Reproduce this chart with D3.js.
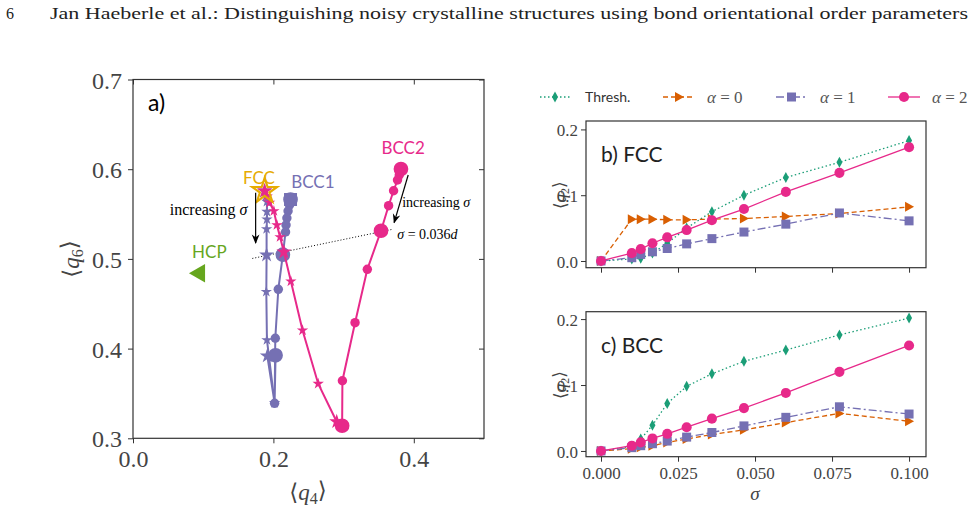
<!DOCTYPE html>
<html>
<head>
<meta charset="utf-8">
<script src="https://cdn.jsdelivr.net/npm/d3@7"></script>
<style>
  body { margin: 0; background: #fff; }
  svg { display: block; }
</style>
</head>
<body>
<svg id="fig" width="976" height="510"></svg>
<script>
// ---- panel a: <q4>, <q6> paths with increasing sigma ----
const fccAlpha1 = [[0.1875,0.5757],[0.1896,0.5701],[0.1908,0.5638],[0.1908,0.5526],[0.1908,0.5441],[0.1903,0.5333],
  [0.1903,0.5043],[0.1899,0.4634],[0.1908,0.4096],[0.2017,0.3394],[0.1913,0.3918]]
const bcc1Alpha1 = [[0.2244,0.5662],[0.2230,0.5601],[0.2209,0.5534],[0.2192,0.5456],[0.2180,0.5378],[0.2173,0.5300],
  [0.2135,0.5047],[0.2070,0.4661],[0.2027,0.4115],[0.2017,0.3390],[0.2031,0.3925]]
const fccAlpha2 = [[0.1875,0.5757],[0.1911,0.5696],[0.1946,0.5627],[0.2007,0.5534],[0.2050,0.5378],[0.2095,0.5244],
  [0.2149,0.5077],[0.2249,0.4750],[0.2415,0.4204],[0.2638,0.3609],[0.2902,0.3185]]
const bcc2Alpha2 = [[0.3817,0.6002],[0.3807,0.5980],[0.3793,0.5935],[0.3768,0.5880],[0.3712,0.5760],[0.3641,0.5593],
  [0.3533,0.5314],[0.3338,0.4884],[0.3163,0.4289],[0.2983,0.3642],[0.2979,0.3140]]
const bigIdx = [0, 6, 10]
const hcpRef = [0.095, 0.484]
const fccRef = [0.1875, 0.5757]
const sigmaLine = [[0.170, 0.5005], [0.3697, 0.533]]

// ---- panels b, c: <q2> vs sigma ----
const sigmas = [0, 0.01, 0.0129, 0.0167, 0.0215, 0.0278, 0.036, 0.0464, 0.06, 0.0774, 0.1]
const fccThresh = [0, 0.003, 0.004, 0.012, 0.027, 0.05, 0.075, 0.100, 0.127, 0.150, 0.183]
const fccA0 = [0, 0.0636, 0.0636, 0.0636, 0.0626, 0.0626, 0.0636, 0.0646, 0.0677, 0.0722, 0.0823]
const fccA1 = [0, 0.005, 0.010, 0.014, 0.019, 0.026, 0.034, 0.044, 0.056, 0.073, 0.061]
const fccA2 = [0, 0.012, 0.018, 0.027, 0.036, 0.047, 0.062, 0.079, 0.105, 0.134, 0.173]
const bccThresh = [0, 0.007, 0.018, 0.039, 0.072, 0.098, 0.117, 0.136, 0.153, 0.176, 0.2015]
const bccA0 = [0, 0.0035, 0.0055, 0.008, 0.013, 0.018, 0.025, 0.032, 0.043, 0.057, 0.045]
const bccA1 = [0, 0.005, 0.008, 0.011, 0.015, 0.021, 0.028, 0.038, 0.051, 0.067, 0.056]
const bccA2 = [0, 0.008, 0.013, 0.019, 0.026, 0.036, 0.049, 0.065, 0.088, 0.120, 0.160]
const sigmaTicks = [0, 0.025, 0.05, 0.075, 0.1]
const q2Ticks = [0, 0.1, 0.2]

const green = '#1b9e77', orange = '#d95f02', purple = '#7570b3', pink = '#e7298a'
const hcpGreen = '#66a61e', fccYellow = '#e6ab02'
const frameColor = '#333', tickText = '#444'
const SERIF = '"Liberation Serif", "DejaVu Serif", serif'
const SANS = 'Lato, "DejaVu Sans", sans-serif'

const svg = d3.select('#fig')
svg.append('rect').attr('width', 976).attr('height', 510).attr('fill', '#fff')

// header line of the page
svg.append('text').attr('font-family', SERIF).attr('x', 6).attr('y', 19)
  .attr('font-size', 16).attr('fill', '#222').text('6')
svg.append('text').attr('font-family', SERIF).attr('x', 50).attr('y', 19)
  .attr('font-size', 16).attr('fill', '#222')
  .attr('textLength', 918).attr('lengthAdjust', 'spacingAndGlyphs')
  .text('Jan Haeberle et al.: Distinguishing noisy crystalline structures using bond orientational order parameters')

// ======== panel a ========
const xA = d3.scaleLinear().domain([0, 0.5]).range([133, 484])
const yA = d3.scaleLinear().domain([0.3, 0.7]).range([438.3, 79.5])
const gA = svg.append('g')

const styleAxis = (g, fs) => {
  g.attr('font-family', SERIF)
  g.select('.domain').remove()
  g.selectAll('.tick line').attr('stroke', frameColor)
  g.selectAll('.tick text').attr('font-family', SERIF).attr('fill', tickText).attr('font-size', fs)
}

gA.append('g').attr('transform', `translate(0,${yA(0.3)})`)
  .call(d3.axisBottom(xA).tickValues([0, 0.2, 0.4]).tickFormat(d3.format('.1f')).tickSize(5).tickPadding(7))
  .call((g) => styleAxis(g, 24))
gA.append('g').attr('transform', `translate(${xA(0)},0)`)
  .call(d3.axisLeft(yA).tickValues([0.3, 0.4, 0.5, 0.6, 0.7]).tickFormat(d3.format('.1f')).tickSize(5).tickPadding(6))
  .call((g) => styleAxis(g, 24))
  .call((g) => g.selectAll('.tick text').attr('dy', '0.36em'))
gA.append('g').attr('transform', `translate(0,${yA(0.7)})`)
  .call(d3.axisTop(xA).tickValues([0, 0.2, 0.4]).tickFormat('').tickSize(-5))
  .call((g) => styleAxis(g, 24))
gA.append('g').attr('transform', `translate(${xA(0.5)},0)`)
  .call(d3.axisRight(yA).tickValues([0.3, 0.4, 0.5, 0.6, 0.7]).tickFormat('').tickSize(-5))
  .call((g) => styleAxis(g, 24))
gA.append('rect').attr('x', xA(0)).attr('y', yA(0.7))
  .attr('width', xA(0.5) - xA(0)).attr('height', yA(0.3) - yA(0.7))
  .attr('fill', 'none').attr('stroke', frameColor).attr('stroke-width', 1.2)

// axis labels
const qLabel = (sel, sub) => {
  sel.append('tspan').text('\u27e8')
  sel.append('tspan').attr('font-style', 'italic').text('q')
  sel.append('tspan').attr('font-size', '0.7em').attr('dy', '0.25em').text(sub)
  sel.append('tspan').attr('dy', '-0.25em').text('\u27e9')
}
gA.append('text').attr('font-family', SERIF).attr('x', 308).attr('y', 500)
  .attr('text-anchor', 'middle').attr('font-size', 23).attr('fill', tickText).call(qLabel, '4')
gA.append('text').attr('font-family', SERIF).attr('transform', 'translate(79,259) rotate(-90)')
  .attr('text-anchor', 'middle').attr('font-size', 23).attr('fill', tickText).call(qLabel, '6')

// dotted sigma = 0.036 line
const lineA = d3.line().x((d) => xA(d[0])).y((d) => yA(d[1]))
gA.append('path').attr('d', lineA(sigmaLine)).attr('fill', 'none')
  .attr('stroke', '#000').attr('stroke-width', 1).attr('stroke-dasharray', '1,2')

const star = (s) => d3.symbol(d3.symbolStar, s)()
const drawPath = (data, color, kind) => {
  gA.append('path').attr('d', lineA(data)).attr('fill', 'none')
    .attr('stroke', color).attr('stroke-width', 2)
  gA.append('g').selectAll('path').data(data).join('path')
    .attr('transform', (d) => `translate(${xA(d[0])},${yA(d[1])})`)
    .attr('d', (d, i) => kind === 'star'
      ? star(bigIdx.includes(i) ? 70 : 40)
      : d3.symbol(d3.symbolCircle, bigIdx.includes(i) ? 170 : 70)())
    .attr('fill', color)
}
drawPath(fccAlpha1, purple, 'star')
drawPath(bcc1Alpha1, purple, 'circle')
drawPath(fccAlpha2, pink, 'star')
drawPath(bcc2Alpha2, pink, 'circle')

// reference structures
gA.append('rect').attr('x', xA(bcc1Alpha1[0][0]) - 6.5).attr('y', yA(bcc1Alpha1[0][1]) - 6.5)
  .attr('width', 13).attr('height', 13).attr('fill', purple)
gA.append('path').attr('d', star(190))
  .attr('transform', `translate(${xA(fccRef[0])},${yA(fccRef[1])})`)
  .attr('fill', 'none').attr('stroke', fccYellow).attr('stroke-width', 2.2)
gA.append('path').attr('d', d3.symbol(d3.symbolTriangle, 150)())
  .attr('transform', `translate(${xA(hcpRef[0])},${yA(hcpRef[1])}) rotate(-90)`)
  .attr('fill', hcpGreen)

// labels
gA.append('text').attr('font-family', SANS).attr('x', xA(0) + 15).attr('y', yA(0.7) + 31)
  .attr('font-size', 23).attr('fill', '#000').text('a)')
const lab = (txt, x, y, color, anchor) => gA.append('text').attr('font-family', SANS)
  .attr('x', xA(x)).attr('y', yA(y)).attr('font-size', 17).attr('fill', color)
  .attr('text-anchor', anchor || 'start').text(txt)
lab('FCC', 0.1794, 0.5835, fccYellow, 'middle')
lab('BCC1', 0.2254, 0.579, purple)
lab('BCC2', 0.354, 0.6167, pink)
lab('HCP', 0.0842, 0.5007, hcpGreen)

// arrows and annotations
svg.append('defs').append('marker').attr('id', 'arrow').attr('viewBox', '0 0 10 10')
  .attr('refX', 9).attr('refY', 5).attr('markerWidth', 8).attr('markerHeight', 8)
  .attr('orient', 'auto-start-reverse')
  .append('path').attr('d', 'M0,1 L10,5 L0,9 L3,5 Z').attr('fill', '#000')
const arrow = (a, b) => gA.append('line')
  .attr('x1', xA(a[0])).attr('y1', yA(a[1])).attr('x2', xA(b[0])).attr('y2', yA(b[1]))
  .attr('stroke', '#000').attr('stroke-width', 1.2).attr('marker-end', 'url(#arrow)')
arrow([0.1747, 0.5738], [0.1747, 0.5177])
arrow([0.392, 0.5935], [0.372, 0.5404])

const incr = (x, y, anchor, fs) => {
  const t = gA.append('text').attr('font-family', SERIF).attr('x', xA(x)).attr('y', yA(y))
    .attr('font-size', fs).attr('fill', '#000').attr('text-anchor', anchor)
  t.append('tspan').text('increasing ')
  t.append('tspan').attr('font-style', 'italic').text('\u03c3')
}
incr(0.163, 0.549, 'end', 16)
incr(0.3835, 0.558, 'start', 14)
const sl = gA.append('text').attr('font-family', SERIF).attr('x', xA(0.3764)).attr('y', yA(0.522))
  .attr('font-size', 14).attr('fill', '#000')
sl.append('tspan').attr('font-style', 'italic').text('\u03c3')
sl.append('tspan').text(' = 0.036')
sl.append('tspan').attr('font-style', 'italic').text('d')

// ======== panels b and c ========
const xB = d3.scaleLinear().domain([-0.00487, 0.1055]).range([586, 926])
const lineKinds = [
  { color: green, dash: '1.5,2.5', symbol: 'diamond' },
  { color: orange, dash: '5,3', symbol: 'triangle' },
  { color: purple, dash: '8,3,2,3', symbol: 'square' },
  { color: pink, dash: null, symbol: 'circle' },
]
const markerPath = (kind) => {
  if (kind === 'diamond') return 'M0,-5.5 L3,0 L0,5.5 L-3,0 Z'
  if (kind === 'triangle') return 'M5,0 L-4,-5 L-4,5 Z'
  if (kind === 'square') return 'M-4.5,-4.5 H4.5 V4.5 H-4.5 Z'
  return d3.symbol(d3.symbolCircle, 80)()
}

const drawPanel = (series, yDomain, yRange, title, showXLabels) => {
  const y = d3.scaleLinear().domain(yDomain).range(yRange)
  const g = svg.append('g')
  g.append('g').attr('transform', `translate(0,${yRange[0]})`)
    .call(d3.axisBottom(xB).tickValues(sigmaTicks).tickFormat(showXLabels ? d3.format('.3f') : '').tickSize(5).tickPadding(5))
    .call((a) => styleAxis(a, 17))
  g.append('g').attr('transform', `translate(${xB.range()[0]},0)`)
    .call(d3.axisLeft(y).tickValues(q2Ticks).tickFormat(d3.format('.1f')).tickSize(5).tickPadding(3))
    .call((a) => styleAxis(a, 17))
    .call((a) => a.selectAll('.tick text').attr('dy', '0.36em'))
  g.append('rect').attr('x', xB.range()[0]).attr('y', yRange[1])
    .attr('width', xB.range()[1] - xB.range()[0]).attr('height', yRange[0] - yRange[1])
    .attr('fill', 'none').attr('stroke', frameColor).attr('stroke-width', 1.2)
  const ln = d3.line().x((d, i) => xB(sigmas[i])).y((d) => y(d))
  series.forEach((vals, k) => {
    const st = lineKinds[k]
    g.append('path').attr('d', ln(vals)).attr('fill', 'none').attr('stroke', st.color)
      .attr('stroke-width', 1.3).attr('stroke-dasharray', st.dash)
    g.append('g').selectAll('path').data(vals).join('path')
      .attr('transform', (d, i) => `translate(${xB(sigmas[i])},${y(d)})`)
      .attr('d', markerPath(st.symbol)).attr('fill', st.color)
  })
  g.append('text').attr('font-family', SANS).attr('x', 601).attr('y', yRange[1] + 41)
    .attr('font-size', 21).attr('fill', '#222').text(title)
  g.append('text').attr('font-family', SERIF).attr('transform', `translate(566,${y(0.1)}) rotate(-90)`)
    .attr('text-anchor', 'middle').attr('font-size', 17).attr('fill', tickText).call(qLabel, '2')
}
drawPanel([fccThresh, fccA0, fccA1, fccA2], [-0.0102, 0.2128], [267.7, 121], 'b) FCC', false)
drawPanel([bccThresh, bccA0, bccA1, bccA2], [-0.0087, 0.2112], [456.7, 311.7], 'c) BCC', true)

svg.append('text').attr('font-family', SERIF).attr('x', 755).attr('y', 500)
  .attr('text-anchor', 'middle').attr('font-size', 19).attr('font-style', 'italic')
  .attr('fill', tickText).text('\u03c3')

// ======== legend ========
const legendItems = [
  { x0: 540, x1: 570, tx: 585, k: 0, label: 'Thresh.' },
  { x0: 663, x1: 695, tx: 707, k: 1, label: '0' },
  { x0: 776, x1: 807, tx: 820, k: 2, label: '1' },
  { x0: 888, x1: 920, tx: 932, k: 3, label: '2' },
]
const ly = 97
legendItems.forEach((it) => {
  const st = lineKinds[it.k]
  svg.append('line').attr('x1', it.x0).attr('x2', it.x1).attr('y1', ly).attr('y2', ly)
    .attr('stroke', st.color).attr('stroke-width', 1.3).attr('stroke-dasharray', st.dash)
  svg.append('path').attr('d', markerPath(st.symbol))
    .attr('transform', `translate(${(it.x0 + it.x1) / 2},${ly})`).attr('fill', st.color)
  if (it.k === 0) {
    svg.append('text').attr('font-family', SANS).attr('x', it.tx).attr('y', ly + 5)
      .attr('font-size', 14).attr('fill', '#333').text(it.label)
  } else {
    const t = svg.append('text').attr('font-family', SERIF).attr('x', it.tx).attr('y', ly + 6)
      .attr('font-size', 17).attr('fill', '#555')
    t.append('tspan').attr('font-style', 'italic').text('\u03b1')
    t.append('tspan').text(' = ' + it.label)
  }
})
</script>
</body>
</html>
